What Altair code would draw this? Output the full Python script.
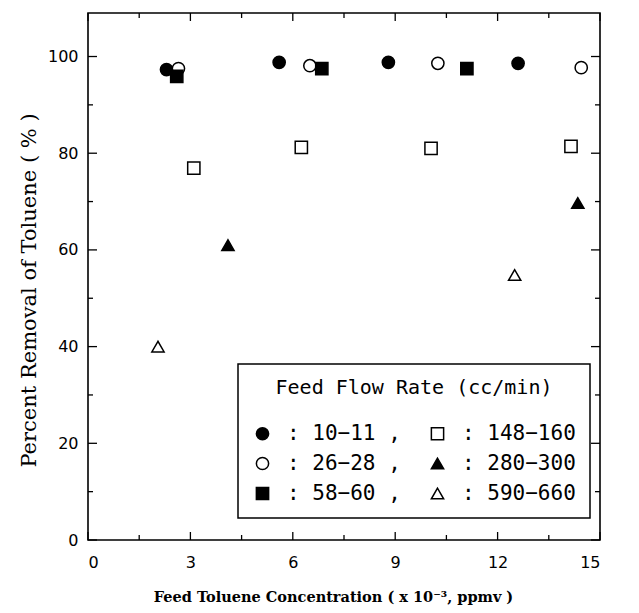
import altair as alt
import pandas as pd

# ---- data ----
groups = ["10−11", "26−28", "58−60", "148−160", "280−300", "590−660"]
fills = ["black", "white", "black", "white", "black", "white"]
shapes = ["circle", "circle", "square", "square", "triangle-up", "triangle-up"]

s10_x = [2.3, 5.6, 8.8, 12.6]
s10_y = [97.3, 98.8, 98.8, 98.6]
s26_x = [2.65, 6.5, 10.25, 14.45]
s26_y = [97.5, 98.1, 98.6, 97.7]
s58_x = [2.6, 6.85, 11.1]
s58_y = [95.9, 97.5, 97.5]
s148_x = [3.1, 6.25, 10.05, 14.15]
s148_y = [76.9, 81.2, 81.0, 81.4]
s280_x = [4.1, 14.35]
s280_y = [61.0, 69.7]
s590_x = [2.05, 12.5]
s590_y = [40.0, 54.8]

x_major = [0, 3, 6, 9, 12, 15]
x_minor = [1.5, 4.5, 7.5, 10.5, 13.5]
y_major = [0, 20, 40, 60, 80, 100]
y_minor = [10, 30, 50, 70, 90]

series = [
    ("10−11", s10_x, s10_y),
    ("26−28", s26_x, s26_y),
    ("58−60", s58_x, s58_y),
    ("148−160", s148_x, s148_y),
    ("280−300", s280_x, s280_y),
    ("590−660", s590_x, s590_y),
]
rows = []
for g, xs, ys in series:
    for a, b in zip(xs, ys):
        rows.append({"g": g, "x": a, "y": b})
df = pd.DataFrame(rows)

W, H = 512, 527
xs_scale = alt.Scale(domain=[0, 15], nice=False, zero=False)
ys_scale = alt.Scale(domain=[0, 109], nice=False, zero=False)

x_axis = alt.Axis(values=x_major, title="Feed Toluene Concentration ( x 10⁻³, ppmv )",
                  labelFontSize=16, labelFont="DejaVu Sans", labelPadding=14,
                  titleFont="DejaVu Serif", titleFontWeight="bold", titleFontSize=14.5,
                  titlePadding=20, titleX=245)
y_axis = alt.Axis(values=y_major, title="Percent Removal of Toluene ( % )",
                  labelFontSize=16, labelFont="DejaVu Sans", labelPadding=10,
                  titleFont="DejaVu Serif", titleFontWeight="normal", titleFontSize=21,
                  titlePadding=8, titleY=277)

first_col = "indexof(['10−11','26−28','58−60'], datum.label) >= 0"
leg = alt.Legend(title="Feed Flow Rate (cc/min)", orient="none",
                 legendX=150, legendY=351, columns=2,
                 labelExpr="': ' + datum.label + (" + first_col + " ? ' ,' : '')")

points = alt.Chart(df).mark_point(filled=True, strokeWidth=1.5, size=150, opacity=1).encode(
    x=alt.X("x:Q", scale=xs_scale, axis=x_axis),
    y=alt.Y("y:Q", scale=ys_scale, axis=y_axis),
    fill=alt.Fill("g:N", scale=alt.Scale(domain=groups, range=fills), legend=leg),
    shape=alt.Shape("g:N", scale=alt.Scale(domain=groups, range=shapes), legend=leg),
    stroke=alt.Stroke("g:N", scale=alt.Scale(domain=groups, range=["black"] * 6), legend=leg),
)

def xticks(vals, length):
    d = pd.DataFrame({"v": vals})
    base = alt.Chart(d).mark_rule(color="black", strokeWidth=1.3)
    bottom = base.encode(x=alt.X("v:Q", scale=xs_scale, axis=x_axis), y=alt.value(H), y2=alt.value(H - length))
    top = base.encode(x=alt.X("v:Q", scale=xs_scale, axis=x_axis), y=alt.value(0), y2=alt.value(length))
    return [bottom, top]

def yticks(vals, length):
    d = pd.DataFrame({"v": vals})
    base = alt.Chart(d).mark_rule(color="black", strokeWidth=1.3)
    left = base.encode(y=alt.Y("v:Q", scale=ys_scale, axis=y_axis), x=alt.value(0), x2=alt.value(length))
    right = base.encode(y=alt.Y("v:Q", scale=ys_scale, axis=y_axis), x=alt.value(W), x2=alt.value(W - length))
    return [left, right]

layers = [points] + xticks(x_major, 8) + xticks(x_minor, 5) + yticks(y_major, 9) + yticks(y_minor, 5)

chart = alt.layer(*layers).properties(
    width=W, height=H,
    autosize=alt.AutoSizeParams(type="none"),
    padding={"left": 88, "top": 13, "right": 39, "bottom": 73},
).configure_view(
    stroke="black", strokeWidth=1.6
).configure_axis(
    ticks=False, domain=False, grid=False, labelColor="black", titleColor="black"
).configure_legend(
    strokeColor="black", strokeWidth=1.5, fillColor="white", padding=14, cornerRadius=0,
    titleFont="DejaVu Sans Mono", titleFontSize=20, titleFontWeight="normal", titleColor="black",
    titleAnchor="middle", titlePadding=25, titleLimit=400,
    labelFont="DejaVu Sans Mono", labelFontSize=21, labelColor="black", labelLimit=300,
    symbolSize=150, symbolStrokeWidth=1.5, symbolOpacity=1,
    labelOffset=14, columnPadding=26, rowPadding=8,
)

chart.save("out.html", embed_options={"renderer": "svg", "actions": False})
